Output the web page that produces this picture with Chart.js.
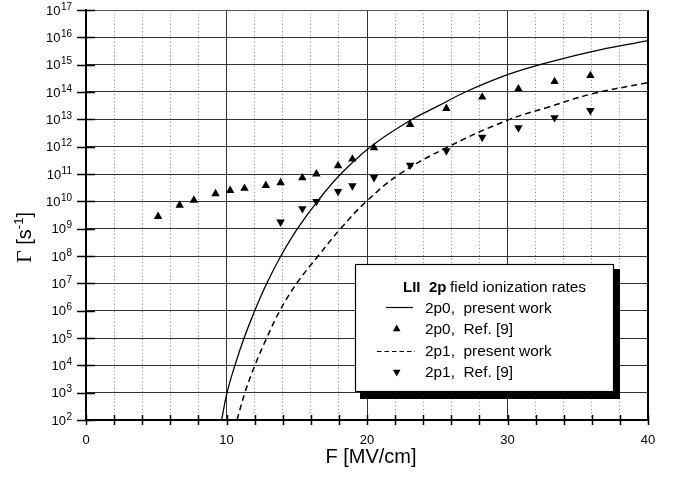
<!DOCTYPE html>
<html>
<head>
<meta charset="utf-8">
<script src="https://cdn.jsdelivr.net/npm/chart.js@4/dist/chart.umd.min.js"></script>
<style>
  body { margin: 0; background: #fff; }
  #wrap { width: 673px; height: 481px; }
</style>
</head>
<body>
<div id="wrap"><canvas id="rates" width="673" height="481"></canvas></div>
<script>
// 2p0, present work (solid curve)
const curveF0 = [9.65, 10.04, 10.60, 11.25, 12.01, 12.87, 13.87, 15.05, 16.47, 18.13, 20.26, 23.07, 25.18, 27.0, 30.0, 32.3, 35.85, 40];
const curve2p0 = [1e2, 1e3, 1e4, 1e5, 1e6, 1e7, 1e8, 1e9, 1e10, 1e11, 1e12, 9.1e12, 3.3e13, 1e14, 4.3e14, 1e15, 2.9e15, 7.6e15];
// 2p1, present work (dashed curve)
const curveF1 = [10.75, 11.31, 12.02, 12.86, 13.8, 15.0, 16.52, 18.19, 19.96, 22.33, 25.6, 30.0, 33.0, 36.0, 40];
const curve2p1 = [1e2, 1e3, 1e4, 1e5, 1e6, 1e7, 1e8, 1.1e9, 1e10, 1e11, 8.9e11, 9.3e12, 2.9e13, 8.5e13, 2.2e14];
// Ref. [9] points
const refF0 = [5.13, 6.67, 7.68, 9.22, 10.26, 11.28, 12.8, 13.85, 15.4, 16.4, 17.94, 18.96, 20.5, 23.07, 25.65, 28.2, 30.78, 33.35, 35.9];
const ref2p0 = [2.8e9, 7.2e9, 1.1e10, 1.9e10, 2.5e10, 3.0e10, 3.8e10, 4.8e10, 7.2e10, 1.0e11, 2.0e11, 3.5e11, 9.0e11, 6.5e12, 2.5e13, 6.5e13, 1.3e14, 2.4e14, 4.0e14];
const refF1 = [13.85, 15.4, 16.4, 17.94, 18.96, 20.5, 23.07, 25.65, 28.2, 30.78, 33.35, 35.9];
const ref2p1 = [1.75e9, 5.4e9, 1.0e10, 2.3e10, 3.7e10, 7.4e10, 2.1e11, 7.1e11, 2.2e12, 4.9e12, 1.15e13, 2.1e13];

// axes
const xTicks = [0, 10, 20, 30, 40];
const xMinorTicks = [0, 2, 4, 6, 8, 10, 12, 14, 16, 18, 20, 22, 24, 26, 28, 30, 32, 34, 36, 38, 40];
const yTicks = [1e2, 1e3, 1e4, 1e5, 1e6, 1e7, 1e8, 1e9, 1e10, 1e11, 1e12, 1e13, 1e14, 1e15, 1e16, 1e17];
const yTickExp = ['2', '3', '4', '5', '6', '7', '8', '9', '10', '11', '12', '13', '14', '15', '16', '17'];

const SANS = '"Liberation Sans", Arial, Helvetica, sans-serif';
const SERIF = '"Liberation Serif", "Times New Roman", serif';

function pairs(xs, ys) {
    return xs.map((x, i) => ({ x: x, y: ys[i] }));
}

function tri(ctx, x, y, r, down) {
    let s = down ? -1 : 1;
    ctx.beginPath();
    ctx.moveTo(x, y - s * r);
    ctx.lineTo(x + r * 0.866, y + s * r * 0.5);
    ctx.lineTo(x - r * 0.866, y + s * r * 0.5);
    ctx.closePath();
    ctx.fill();
}

const decorations = {
    id: 'decorations',
    afterDraw(chart) {
        const ctx = chart.ctx;
        const xs = chart.scales.x, ys = chart.scales.y;
        const area = chart.chartArea;
        ctx.save();
        ctx.strokeStyle = '#000';
        ctx.fillStyle = '#000';
        ctx.lineWidth = 1.5;
        // tick marks crossing the axes
        ctx.beginPath();
        xMinorTicks.forEach(v => {
            let px = Math.round(xs.getPixelForValue(v)) + 0.5;
            ctx.moveTo(px, area.bottom - 5);
            ctx.lineTo(px, area.bottom + 5);
        });
        yTicks.forEach(v => {
            let py = Math.round(ys.getPixelForValue(v)) + 0.5;
            ctx.moveTo(area.left - 9, py);
            ctx.lineTo(area.left + 9, py);
        });
        ctx.stroke();

        // x tick labels
        ctx.font = '13px ' + SANS;
        ctx.textAlign = 'center';
        ctx.textBaseline = 'alphabetic';
        xTicks.forEach(v => {
            ctx.fillText(String(v), xs.getPixelForValue(v), area.bottom + 24);
        });

        // y tick labels 10^n
        ctx.textAlign = 'left';
        yTicks.forEach((v, i) => {
            let py = ys.getPixelForValue(v);
            ctx.font = '10px ' + SANS;
            let wSup = ctx.measureText(yTickExp[i]).width;
            ctx.font = '13px ' + SANS;
            let wBase = ctx.measureText('10').width;
            let x0 = 72 - wSup - wBase - 0.5;
            ctx.fillText('10', x0, py + 4.5);
            ctx.font = '10px ' + SANS;
            ctx.fillText(yTickExp[i], x0 + wBase + 0.5, py - 0.5);
        });

        // x title
        ctx.font = '20px ' + SANS;
        ctx.textAlign = 'center';
        ctx.fillText('F [MV/cm]', 371, 463);

        // y title, rotated
        ctx.save();
        ctx.translate(31, 263);
        ctx.rotate(-Math.PI / 2);
        ctx.textAlign = 'left';
        let cx = 0;
        ctx.font = '22px ' + SERIF;
        ctx.fillText('\u0393', cx, 0);
        cx += ctx.measureText('\u0393').width;
        ctx.font = '20px ' + SANS;
        ctx.fillText(' [s', cx, 0);
        cx += ctx.measureText(' [s').width;
        ctx.font = '13px ' + SANS;
        ctx.fillText('-1', cx, -8);
        cx += ctx.measureText('-1').width;
        ctx.font = '20px ' + SANS;
        ctx.fillText(']', cx, 0);
        ctx.restore();

        // legend box with shadow
        ctx.fillStyle = '#000';
        ctx.fillRect(360, 269, 260, 130);
        ctx.fillStyle = '#fff';
        ctx.fillRect(355, 264, 259, 128);
        ctx.lineWidth = 1.2;
        ctx.strokeRect(355.5, 264.5, 258, 127);

        ctx.fillStyle = '#000';
        ctx.textAlign = 'left';
        ctx.font = 'bold 15px ' + SANS;
        ctx.fillText('LII', 403, 292);
        ctx.fillText('2p', 429, 292);
        ctx.font = '15.4px ' + SANS;
        ctx.fillText('field ionization rates', 450, 292);

        ctx.fillText('2p0,  present work', 425, 312.5);
        ctx.fillText('2p0,  Ref. [9]', 425, 334);
        ctx.fillText('2p1,  present work', 425, 355.5);
        ctx.fillText('2p1,  Ref. [9]', 425, 377);

        ctx.lineWidth = 1.2;
        ctx.beginPath();
        ctx.moveTo(386, 307.5);
        ctx.lineTo(413, 307.5);
        ctx.stroke();
        ctx.setLineDash([4.5, 3]);
        ctx.beginPath();
        ctx.moveTo(377, 351.5);
        ctx.lineTo(415, 351.5);
        ctx.stroke();
        ctx.setLineDash([]);
        tri(ctx, 396.7, 329, 4.4, false);
        tri(ctx, 396.7, 372, 4.4, true);
        ctx.restore();
    }
};

new Chart(document.getElementById('rates'), {
    type: 'scatter',
    data: {
        datasets: [
            {
                label: '2p0,  present work',
                data: pairs(curveF0, curve2p0),
                showLine: true,
                borderColor: '#000',
                borderWidth: 1.3,
                pointRadius: 0,
                tension: 0.4
            },
            {
                label: '2p1,  present work',
                data: pairs(curveF1, curve2p1),
                showLine: true,
                borderColor: '#000',
                borderWidth: 1.5,
                borderDash: [6, 4],
                pointRadius: 0,
                tension: 0.4
            },
            {
                label: '2p0,  Ref. [9]',
                data: pairs(refF0, ref2p0),
                showLine: false,
                pointStyle: 'triangle',
                pointRadius: 4.9,
                backgroundColor: '#000',
                borderColor: '#000',
                borderWidth: 0
            },
            {
                label: '2p1,  Ref. [9]',
                data: pairs(refF1, ref2p1),
                showLine: false,
                pointStyle: 'triangle',
                rotation: 180,
                pointRadius: 4.9,
                backgroundColor: '#000',
                borderColor: '#000',
                borderWidth: 0
            }
        ]
    },
    options: {
        responsive: false,
        animation: false,
        events: [],
        layout: { padding: { left: 86, right: 25, top: 10, bottom: 61 } },
        plugins: {
            legend: { display: false },
            tooltip: { enabled: false }
        },
        scales: {
            x2: {
                type: 'linear',
                position: 'bottom',
                min: 0,
                max: 40,
                ticks: { display: false, stepSize: 2 },
                grid: { color: '#8a8a8a', lineWidth: 1, drawTicks: false, z: -1 },
                border: { display: false, dash: [1, 2.5] }
            },
            x: {
                type: 'linear',
                position: 'bottom',
                min: 0,
                max: 40,
                afterBuildTicks: (scale) => { scale.ticks = xTicks.map(v => ({ value: v })); },
                ticks: { display: false },
                grid: {
                    color: (c) => (c.tick && c.tick.value === 40 ? '#000' : '#333'),
                    lineWidth: (c) => (c.tick && c.tick.value === 40 ? 2 : 1),
                    drawTicks: false
                },
                border: { display: true, color: '#000', width: 2 }
            },
            y: {
                type: 'logarithmic',
                position: 'left',
                min: 1e2,
                max: 1e17,
                afterBuildTicks: (scale) => { scale.ticks = yTicks.map(v => ({ value: v })); },
                ticks: { display: false },
                grid: {
                    color: (c) => (c.tick && c.tick.value === 1e17 ? '#555' : '#333'),
                    lineWidth: 1,
                    drawTicks: false
                },
                border: { display: true, color: '#000', width: 2 }
            }
        }
    },
    plugins: [decorations]
});
</script>
</body>
</html>
